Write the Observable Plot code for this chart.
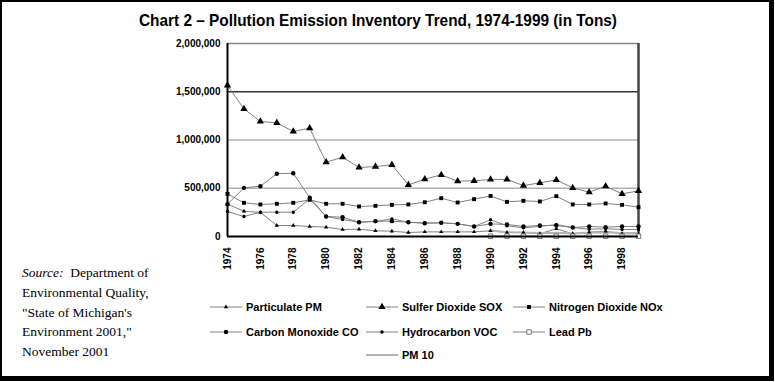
<!DOCTYPE html>
<html>
<head>
<meta charset="utf-8">
<script src="https://cdn.jsdelivr.net/npm/d3@7"></script>
<script src="https://cdn.jsdelivr.net/npm/@observablehq/plot@0.6"></script>
<style>
  html, body { margin: 0; padding: 0; background: #fff; }
  #wrap { position: relative; width: 775px; height: 382px; overflow: hidden; }
  #frame { position: absolute; left: 0; top: 0; width: 774px; height: 381px; box-sizing: border-box;
           border-left: 2px solid #000; border-top: 2px solid #000; border-right: 5px solid #000; border-bottom: 5px solid #000; }
  #chart { position: absolute; left: 0; top: 0; }
  #title { position: absolute; left: 0; top: 0; }
  #source { position: absolute; left: 22px; top: 263px; font-family: "Liberation Serif", "Times New Roman", serif;
            font-size: 13.5px; line-height: 19.8px; color: #000; }
  .leg { position: absolute; display: flex; align-items: center; font-family: "Liberation Sans", Arial, sans-serif;
         font-weight: bold; font-size: 11px; color: #000; white-space: nowrap; }
  .leg svg { display: block; margin-right: 4px; }
</style>
</head>
<body>
<div id="wrap">
  <div id="chart"></div>
  <svg id="title" width="775" height="40"></svg>
  <div id="source"><i>Source:</i>&nbsp; Department of<br>Environmental Quality,<br>"State of Michigan's<br>Environment 2001,"<br>November 2001</div>
  <div id="legend"></div>
  <div id="frame"></div>
</div>
<script>
// ---- data (tons) ----
const years = [1974,1975,1976,1977,1978,1979,1980,1981,1982,1983,1984,1985,1986,1987,1988,1989,1990,1991,1992,1993,1994,1995,1996,1997,1998,1999];
const particulatePM = [335000,262000,250000,114000,114000,104000,97000,72000,76000,59000,55000,41000,48000,48000,48000,48000,59000,41000,42000,28000,80000,28000,45000,55000,28000,28000];
const sulferDioxideSOX = [1565000,1323000,1192000,1178000,1088000,1123000,770000,822000,715000,725000,743000,535000,594000,639000,573000,577000,591000,591000,528000,556000,587000,504000,459000,521000,442000,473000];
const nitrogenDioxideNOx = [442000,349000,332000,339000,349000,380000,339000,339000,311000,318000,328000,332000,355000,397000,352000,387000,420000,359000,370000,363000,418000,332000,332000,342000,328000,304000];
const carbonMonoxideCO = [335000,504000,521000,650000,656000,401000,207000,200000,148000,159000,159000,148000,138000,142000,131000,104000,131000,124000,104000,114000,114000,93000,104000,97000,104000,104000];
const hydrocarbonVOC = [259000,207000,252000,252000,252000,390000,207000,176000,148000,155000,183000,148000,138000,142000,131000,104000,173000,111000,90000,104000,124000,93000,76000,80000,73000,73000];
const leadPb = [null,null,null,null,null,null,null,null,null,null,null,null,null,null,null,null,3000,3000,3000,3000,3000,3000,3000,3000,3000,3000];
const pm10 = [null,null,null,null,null,null,null,null,null,null,null,null,null,null,null,null,62000,45000,41000,35000,40000,30000,40000,45000,35000,35000];
const seriesNames = ["Particulate PM","Sulfer Dioxide SOX","Nitrogen Dioxide NOx","Carbon Monoxide CO","Hydrocarbon VOC","Lead Pb","PM 10"];
const xTicks = [1974,1976,1978,1980,1982,1984,1986,1988,1990,1992,1994,1996,1998];
const yTicks = [0,500000,1000000,1500000,2000000];
const titleText = "Chart 2 \u2013 Pollution Emission Inventory Trend, 1974-1999 (in Tons)";

// ---- styles ----
const seriesValues = [particulatePM, sulferDioxideSOX, nitrogenDioxideNOx, carbonMonoxideCO, hydrocarbonVOC, leadPb, pm10];
const styles = [
  {symbol: "triangle", r: 1.6, fill: "#000", stroke: "none"},
  {symbol: "triangle", r: 2.7, fill: "#000", stroke: "none"},
  {symbol: "square", r: 2.2, fill: "#000", stroke: "none"},
  {symbol: "circle", r: 2.2, fill: "#000", stroke: "none"},
  {symbol: "circle", r: 1.7, fill: "#000", stroke: "none"},
  {symbol: "square", r: 2.5, fill: "#fff", stroke: "#777"},
  null
];
const rows = [];
seriesNames.forEach((name, i) => {
  seriesValues[i].forEach((v, j) => { if (v != null) rows.push({series: name, idx: i, year: years[j], value: v}); });
});

const gridColor = v => v === 1500000 ? "#333" : v === 2000000 ? "#888" : "#b0b0b0";

const marks = [
  Plot.ruleY(yTicks.filter(v => v > 0), {y: d => d, stroke: gridColor, strokeWidth: 1.3}),
  Plot.ruleX([1999], {stroke: "#444", strokeWidth: 2.5}),
];
seriesNames.forEach((name, i) => {
  const data = rows.filter(r => r.idx === i);
  if (styles[i] == null) {
    marks.push(Plot.line(data, {x: "year", y: "value", stroke: "#b4b4b4", strokeWidth: 2}));
  } else {
    marks.push(Plot.line(data, {x: "year", y: "value", stroke: "#808080", strokeWidth: 1}));
  }
});
seriesNames.forEach((name, i) => {
  const s = styles[i];
  if (!s) return;
  const data = rows.filter(r => r.idx === i);
  marks.push(Plot.dot(data, {x: "year", y: "value", symbol: () => s.symbol, r: s.r, fill: s.fill, stroke: s.stroke, strokeWidth: 1}));
});
marks.push(Plot.ruleY([0], {stroke: "#000", strokeWidth: 2}));
marks.push(Plot.ruleX([1974], {stroke: "#000", strokeWidth: 2}));

const chart = Plot.plot({
  width: 775, height: 382,
  marginLeft: 227, marginRight: 137, marginTop: 43, marginBottom: 146,
  style: {fontFamily: "'Liberation Sans', Arial, sans-serif", fontWeight: "bold", fontSize: "10px", color: "#000", background: "transparent"},
  x: {type: "linear", domain: [1974, 1999], ticks: xTicks, tickFormat: d => String(d), tickRotate: -90, tickSize: 0, tickPadding: 11, label: null, fontSize: 11},
  y: {domain: [0, 2000000], ticks: yTicks, tickFormat: d3.format(","), tickSize: 0, tickPadding: 7, label: null},
  symbol: {type: "identity"},
  marks
});
document.getElementById("chart").appendChild(chart);

// title
const tsvg = d3.select("#title");
tsvg.append("text").attr("x", 378).attr("y", 26).attr("text-anchor", "middle")
  .attr("font-family", "'Liberation Sans', Arial, sans-serif").attr("font-weight", "bold").attr("font-size", 17)
  .attr("textLength", 478).attr("lengthAdjust", "spacingAndGlyphs").text(titleText);

// legend
const legendPos = [
  {left: 210, top: 300}, {left: 366, top: 300}, {left: 513, top: 300},
  {left: 210, top: 325}, {left: 366, top: 325}, {left: 513, top: 325},
  {left: 366, top: 348}
];
const symMap = {triangle: d3.symbolTriangle, square: d3.symbolSquare, circle: d3.symbolCircle};
const legend = d3.select("#legend");
seriesNames.forEach((name, i) => {
  const item = legend.append("div").attr("class", "leg").style("left", legendPos[i].left + "px").style("top", legendPos[i].top + "px");
  const sw = item.append("svg").attr("width", 32).attr("height", 14);
  const s = styles[i];
  if (!s) {
    sw.append("line").attr("x1", 0).attr("x2", 32).attr("y1", 7).attr("y2", 7).attr("stroke", "#b4b4b4").attr("stroke-width", 2);
  } else {
    sw.append("line").attr("x1", 0).attr("x2", 32).attr("y1", 7).attr("y2", 7).attr("stroke", "#808080").attr("stroke-width", 1);
    sw.append("path").attr("transform", "translate(16,7)")
      .attr("d", d3.symbol().type(symMap[s.symbol]).size(Math.PI * s.r * s.r)())
      .attr("fill", s.fill).attr("stroke", s.stroke);
  }
  item.append("span").text(name);
});
</script>
</body>
</html>
